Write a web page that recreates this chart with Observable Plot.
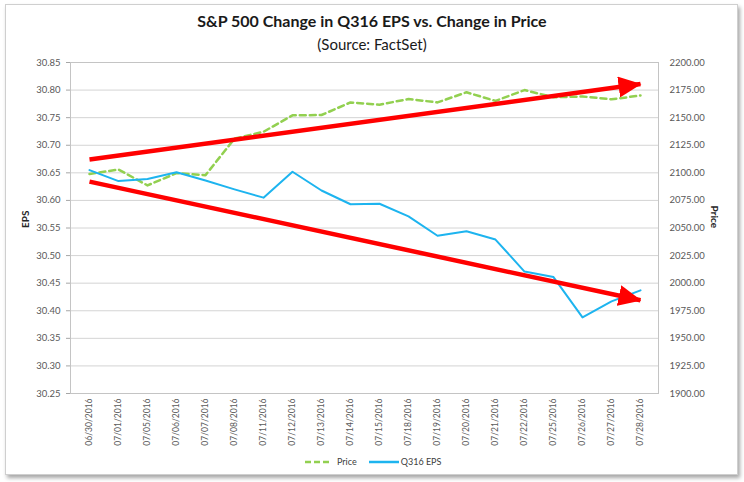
<!DOCTYPE html>
<html><head><meta charset="utf-8">
<script src="https://cdn.jsdelivr.net/npm/d3@7"></script>
<script src="https://cdn.jsdelivr.net/npm/@observablehq/plot@0.6"></script>
<style>
body{margin:0;background:#fff;font-family:Lato,"Open Sans",sans-serif;}
#wrap{position:relative;width:744px;height:482px;overflow:hidden;background:#fff;}
#frame{position:absolute;left:5px;top:4px;width:731px;height:469px;border:1px solid #cfcfcf;box-shadow:2px 3px 4px rgba(0,0,0,0.35);background:#fff;}
#title{position:absolute;left:0;width:744px;top:11px;text-align:center;font-weight:700;font-size:16px;color:#1a1a1a;}
#subtitle{position:absolute;left:0;width:744px;top:35px;text-align:center;font-size:15px;color:#1a1a1a;}
#chart{position:absolute;left:0;top:0;}
#legend{position:absolute;top:456px;left:305px;font-size:9px;color:#404040;display:flex;align-items:center;white-space:nowrap;}
#legend svg{display:block;}
</style></head>
<body>
<div id="wrap">
  <div id="frame"></div>
  <div id="chart"></div>
  <div id="title">S&amp;P 500 Change in Q316 EPS vs. Change in Price</div>
  <div id="subtitle">(Source: FactSet)</div>
  <div id="legend"></div>
</div>
<script>
const dates = ["06/30/2016","07/01/2016","07/05/2016","07/06/2016","07/07/2016","07/08/2016","07/11/2016","07/12/2016","07/13/2016","07/14/2016","07/15/2016","07/18/2016","07/19/2016","07/20/2016","07/21/2016","07/22/2016","07/25/2016","07/26/2016","07/27/2016","07/28/2016"];
const eps = [30.655, 30.635, 30.639, 30.651, 30.636, 30.620, 30.605, 30.652, 30.618, 30.593, 30.594, 30.571, 30.536, 30.544, 30.529, 30.471, 30.461, 30.388, 30.417, 30.437];
const price = [2098.9, 2103.0, 2088.6, 2099.7, 2097.9, 2131.0, 2137.2, 2152.1, 2152.4, 2163.8, 2161.7, 2166.9, 2163.8, 2173.0, 2165.2, 2175.0, 2168.5, 2169.2, 2166.6, 2170.1];
const epsTicks = [30.25, 30.30, 30.35, 30.40, 30.45, 30.50, 30.55, 30.60, 30.65, 30.70, 30.75, 30.80, 30.85];
const priceTicks = [1900, 1925, 1950, 1975, 2000, 2025, 2050, 2075, 2100, 2125, 2150, 2175, 2200];
const arrowStart = [30.674, 30.634];
const arrowEnd = [30.811, 30.419];
const seriesNames = ["Price", "Q316 EPS"];

const epsMin = epsTicks[0], epsMax = epsTicks[epsTicks.length - 1];
const priceMin = priceTicks[0], priceMax = priceTicks[priceTicks.length - 1];
const toEps = p => epsMin + (p - priceMin) * (epsMax - epsMin) / (priceMax - priceMin);
const fromEps = e => priceMin + (e - epsMin) * (priceMax - priceMin) / (epsMax - epsMin);

const idx = d3.range(dates.length);
const arrows = arrowStart.map((s, i) => ({x1: dates[0], x2: dates[dates.length - 1], y1: s, y2: arrowEnd[i]}));

const GREEN = "#92d050", BLUE = "#1db4ef", RED = "#ff0000";

const chart = Plot.plot({
  width: 744, height: 451,
  marginLeft: 70, marginRight: 86, marginTop: 62, marginBottom: 58,
  style: {fontFamily: "Lato, 'Open Sans', sans-serif", fontSize: "9.5px", color: "#595959", background: "transparent"},
  x: {type: "point", domain: dates, padding: 0.5},
  y: {domain: [epsMin, epsMax]},
  marks: [
    Plot.gridY(epsTicks, {stroke: "#d4d4d4", strokeOpacity: 1}),
    Plot.frame({stroke: "#c4c4c4"}),
    Plot.axisY(epsTicks, {anchor: "left", tickFormat: d => d.toFixed(2), tickSize: 4, tickPadding: 6, stroke: "#a6a6a6", label: null, fill: "#595959"}),
    Plot.axisY(priceTicks.map(toEps), {anchor: "right", tickFormat: d => fromEps(d).toFixed(2), tickSize: 0, tickPadding: 11, label: null, fill: "#595959"}),
    Plot.axisX({tickRotate: -90, tickSize: 0, tickPadding: 5, label: null, fontSize: 8.5, fill: "#595959"}),
    Plot.text(["EPS"], {text: d => d, frameAnchor: "left", rotate: -90, dx: -45, fontWeight: "bold", fontSize: 10, fill: "#262626"}),
    Plot.text(["Price"], {text: d => d, frameAnchor: "right", rotate: 90, dx: 56, fontWeight: "bold", fontSize: 10, fill: "#262626"}),
    Plot.line(idx, {x: i => dates[i], y: i => toEps(price[i]), stroke: GREEN, strokeWidth: 2.5, strokeDasharray: "6,4"}),
    Plot.line(idx, {x: i => dates[i], y: i => eps[i], stroke: BLUE, strokeWidth: 2}),
    Plot.link(arrows, {x1: "x1", x2: "x2", y1: "y1", y2: "y2", stroke: RED, strokeWidth: 4.5})
  ]
});

// filled red arrowheads on the trend links
const ns = "http://www.w3.org/2000/svg";
const defs = document.createElementNS(ns, "defs");
const marker = document.createElementNS(ns, "marker");
marker.setAttribute("id", "redhead");
marker.setAttribute("markerUnits", "userSpaceOnUse");
marker.setAttribute("markerWidth", "23");
marker.setAttribute("markerHeight", "21");
marker.setAttribute("viewBox", "0 0 23 21");
marker.setAttribute("refX", "22");
marker.setAttribute("refY", "10.5");
marker.setAttribute("orient", "auto");
const head = document.createElementNS(ns, "path");
head.setAttribute("d", "M0,0L23,10.5L0,21Z");
head.setAttribute("fill", RED);
marker.appendChild(head);
defs.appendChild(marker);
chart.insertBefore(defs, chart.firstChild);
chart.querySelectorAll('g[aria-label="link"] path').forEach(p => p.setAttribute("marker-end", "url(#redhead)"));

document.getElementById("chart").appendChild(chart);

// legend
const legend = document.getElementById("legend");
const items = [{name: seriesNames[0], color: GREEN, dash: "6,3", w: 26}, {name: seriesNames[1], color: BLUE, dash: null, w: 30}];
items.forEach((it, k) => {
  const s = d3.create("svg").attr("width", it.w).attr("height", 6);
  s.append("line").attr("x1", 0).attr("x2", it.w).attr("y1", 3).attr("y2", 3)
    .attr("stroke", it.color).attr("stroke-width", 2.5).attr("stroke-dasharray", it.dash);
  const wrap = document.createElement("div");
  wrap.style.display = "flex"; wrap.style.alignItems = "center";
  wrap.style.marginRight = k === 0 ? "12px" : "0";
  wrap.appendChild(s.node());
  const t = document.createElement("span");
  t.textContent = it.name;
  t.style.marginLeft = k === 0 ? "6px" : "2px";
  wrap.appendChild(t);
  legend.appendChild(wrap);
});
</script>
</body></html>
